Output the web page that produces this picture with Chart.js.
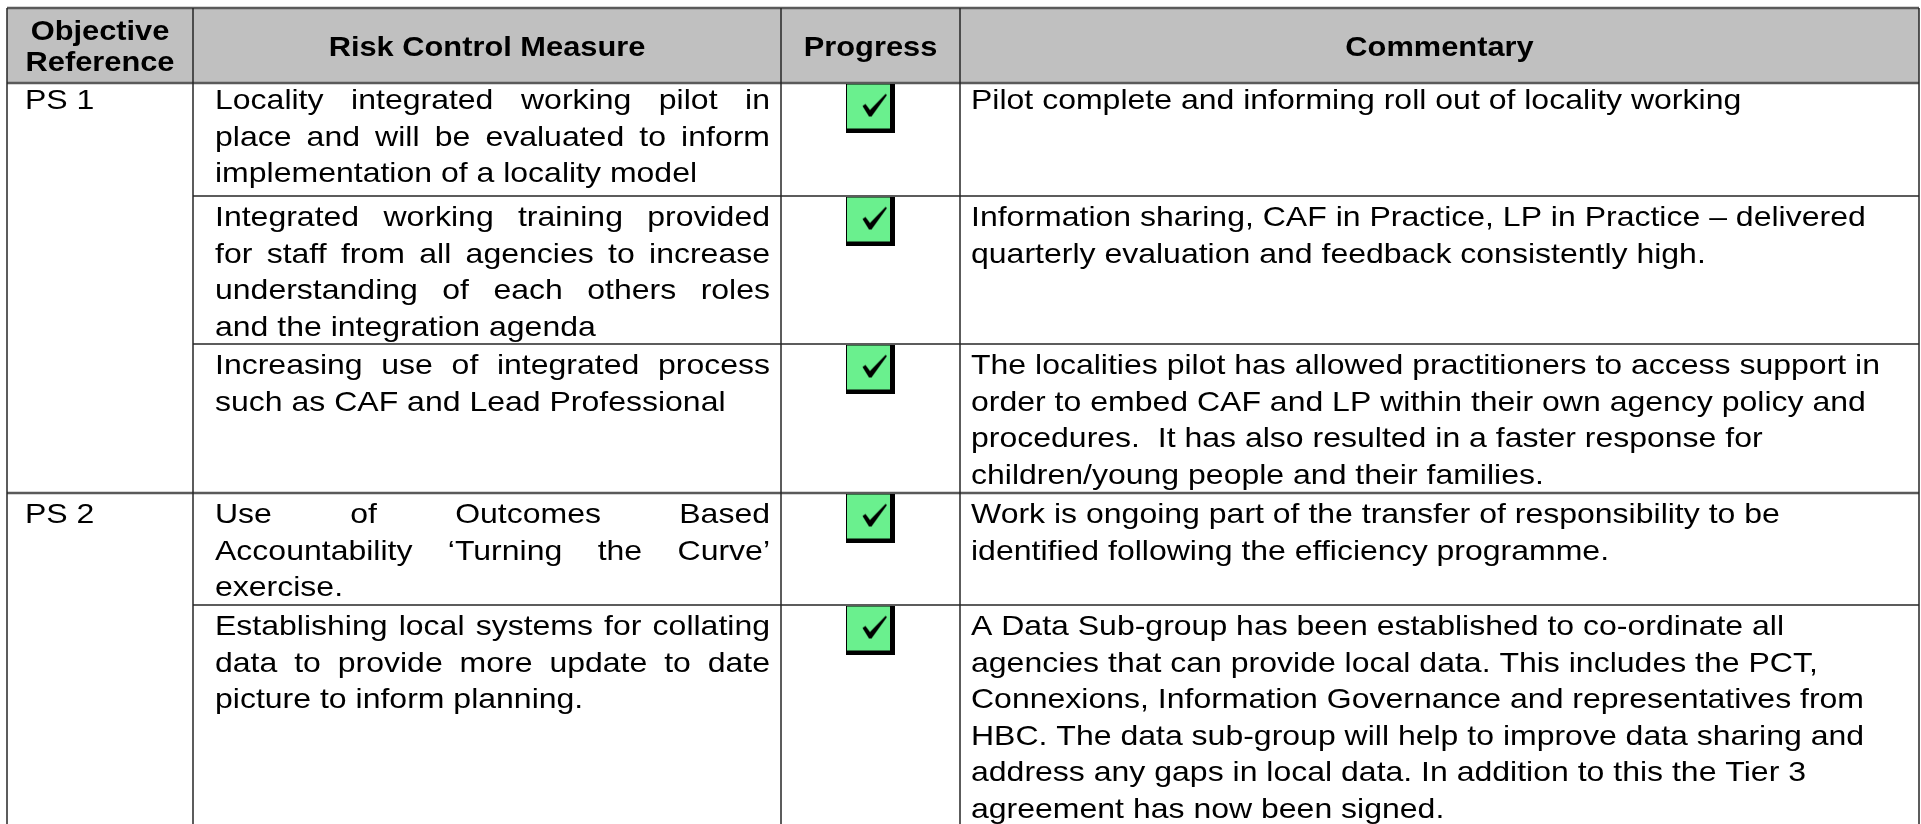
<!DOCTYPE html>
<html>
<head>
<meta charset="utf-8">
<title>Risk Control Measures</title>
<script src="https://cdn.jsdelivr.net/npm/chart.js@4/dist/chart.umd.min.js"></script>
<style>
  html, body { margin: 0; padding: 0; background: #fff; overflow: hidden; }
  #table { display: block; }
</style>
</head>
<body>
<canvas id="table" width="1921" height="824"></canvas>
<script>
// table contents, one entry per measure row
var headers = ['Objective\nReference', 'Risk Control Measure', 'Progress', 'Commentary'];
var objectives = ['PS 1', 'PS 2'];
var objectiveRows = [0, 3];   // first measure row of each objective
var measures = [
  ['Locality integrated working pilot in', 'place and will be evaluated to inform', 'implementation of a locality model'],
  ['Integrated working training provided', 'for staff from all agencies to increase', 'understanding of each others roles', 'and the integration agenda'],
  ['Increasing use of integrated process', 'such as CAF and Lead Professional'],
  ['Use of Outcomes Based', 'Accountability \u2018Turning the Curve\u2019', 'exercise.'],
  ['Establishing local systems for collating', 'data to provide more update to date', 'picture to inform planning.']
];
var progress = ['complete', 'complete', 'complete', 'complete', 'complete'];
var comments = [
  ['Pilot complete and informing roll out of locality working'],
  ['Information sharing, CAF in Practice, LP in Practice \u2013 delivered', 'quarterly evaluation and feedback consistently high.'],
  ['The localities pilot has allowed practitioners to access support in', 'order to embed CAF and LP within their own agency policy and',
   'procedures.  It has also resulted in a faster response for', 'children/young people and their families.'],
  ['Work is ongoing part of the transfer of responsibility to be', 'identified following the efficiency programme.'],
  ['A Data Sub-group has been established to co-ordinate all', 'agencies that can provide local data. This includes the PCT,',
   'Connexions, Information Governance and representatives from', 'HBC. The data sub-group will help to improve data sharing and',
   'address any gaps in local data. In addition to this the Tier 3', 'agreement has now been signed.']
];

// layout, in page pixels
var PAGE_W = 1921, PAGE_H = 824;
var colEdges = [7, 193, 781, 960, 1919];
var rowEdges = [8, 83, 196, 344, 493, 605, 870];
var textX = [25, 215, 0, 971];
var measureRight = 770;
var firstBaseline = [26, 30, 30, 30, 30], lineGap = 36.6;
var HS = 1.143;  // the page is stretched sideways
var FONT = '"Liberation Sans", Arial, sans-serif';

function setFont(ctx, bold){
  ctx.font = (bold ? 'bold ' : '') + '28px ' + FONT;
}
function textWidth(ctx, s, hs){
  return ctx.measureText(s).width * hs;
}
function drawText(ctx, s, x, y, hs){
  ctx.save();
  ctx.translate(x, y);
  ctx.scale(hs, 1);
  ctx.fillText(s, 0, 0);
  ctx.restore();
}
function drawJustified(ctx, s, x, y, width){
  var words = s.split(' ');
  var total = 0;
  words.forEach(function(w){ total += textWidth(ctx, w, HS); });
  var gap = (width - total) / (words.length - 1);
  var cx = x;
  words.forEach(function(w){
    drawText(ctx, w, cx, y, HS);
    cx += textWidth(ctx, w, HS) + gap;
  });
}
function hline(ctx, x1, x2, y, w, color){
  ctx.beginPath();
  ctx.lineWidth = w;
  ctx.strokeStyle = color;
  ctx.moveTo(x1, y);
  ctx.lineTo(x2, y);
  ctx.stroke();
}
function vline(ctx, x, y1, y2, w, color){
  ctx.beginPath();
  ctx.lineWidth = w;
  ctx.strokeStyle = color;
  ctx.moveTo(x, y1);
  ctx.lineTo(x, y2);
  ctx.stroke();
}

// grid and texts, placed through the chart scales
var tablePlugin = {
  id: 'tableGrid',
  beforeDatasetsDraw: function(chart){
    var ctx = chart.ctx;
    var X = function(v){ return chart.scales.x.getPixelForValue(v); };
    var Y = function(v){ return chart.scales.y.getPixelForValue(v); };
    var left = X(colEdges[0]), right = X(colEdges[4]);
    var top = Y(rowEdges[0]), headBottom = Y(rowEdges[1]);
    var bottom = Y(rowEdges[rowEdges.length - 1]);

    ctx.save();
    ctx.fillStyle = '#c0c0c0';
    ctx.fillRect(left, top, right - left, headBottom - top);

    // header texts
    ctx.fillStyle = '#000';
    setFont(ctx, true);
    var mid = (top + headBottom) / 2;
    headers.forEach(function(h, c){
      var lines = h.split('\n');
      var cx = (X(colEdges[c]) + X(colEdges[c + 1])) / 2;
      lines.forEach(function(line, k){
        var y = mid + 10 + (k - (lines.length - 1) / 2) * 31;
        drawText(ctx, line, cx - textWidth(ctx, line, 1.1) / 2, y, 1.1);
      });
    });

    // body texts
    setFont(ctx, false);
    measures.forEach(function(lines, r){
      var base = Y(rowEdges[r + 1]) + firstBaseline[r];
      var g = objectiveRows.indexOf(r);
      if (g >= 0) drawText(ctx, objectives[g], X(textX[0]), base, HS);
      lines.forEach(function(line, k){
        var y = base + k * lineGap;
        if (k < lines.length - 1) drawJustified(ctx, line, X(textX[1]), y, X(measureRight) - X(textX[1]));
        else drawText(ctx, line, X(textX[1]), y, HS);
      });
      comments[r].forEach(function(line, k){
        drawText(ctx, line, X(textX[3]), base + k * lineGap, HS);
      });
    });

    // grid lines
    var outer = '#5a5a5a', inner = '#262626';
    hline(ctx, left, right, top, 2.5, outer);
    hline(ctx, left, right, headBottom, 2.5, outer);
    for (var r = 1; r < measures.length; r++){
      var y = Y(rowEdges[r + 1]);
      if (objectiveRows.indexOf(r) >= 0) hline(ctx, left, right, y, 2.5, outer);
      else hline(ctx, X(colEdges[1]), right, y, 1.5, inner);
    }
    colEdges.forEach(function(c){
      vline(ctx, X(c), top, bottom, 1.5, inner);
    });
    ctx.restore();
  }
};

// green tick box used as the point style for progress marks
function makeTickBox(){
  var cv = document.createElement('canvas');
  cv.width = 49; cv.height = 49;
  var c = cv.getContext('2d');
  c.fillStyle = '#000';
  c.fillRect(0, 0, 49, 49);
  c.fillStyle = '#6af08e';
  c.fillRect(1, 1, 43, 44);
  c.fillStyle = '#000';
  c.beginPath();
  c.moveTo(16.5, 22.5);
  c.lineTo(19.5, 20.5);
  c.lineTo(24, 26.5);
  c.lineTo(39.5, 10.5);
  c.lineTo(41, 11.5);
  c.lineTo(25.5, 33);
  c.lineTo(23, 33);
  c.closePath();
  c.fill();
  return cv;
}

var progressPoints = [];
progress.forEach(function(p, r){
  if (p === 'complete') {
    progressPoints.push({ x: (colEdges[2] + colEdges[3]) / 2, y: rowEdges[r + 1] + 25 });
  }
});

var chart = new Chart(document.getElementById('table'), {
  type: 'scatter',
  data: {
    datasets: [{
      label: 'Progress',
      data: progressPoints,
      pointStyle: makeTickBox(),
      pointRadius: 25,
      pointHoverRadius: 25,
      clip: false
    }]
  },
  options: {
    responsive: false,
    devicePixelRatio: 1,
    animation: false,
    events: [],
    layout: { padding: 0, autoPadding: false },
    plugins: { legend: { display: false }, tooltip: { enabled: false } },
    scales: {
      x: { type: 'linear', min: 0, max: PAGE_W, display: false },
      y: { type: 'linear', min: 0, max: PAGE_H, reverse: true, display: false }
    }
  },
  plugins: [tablePlugin]
});
</script>
</body>
</html>
